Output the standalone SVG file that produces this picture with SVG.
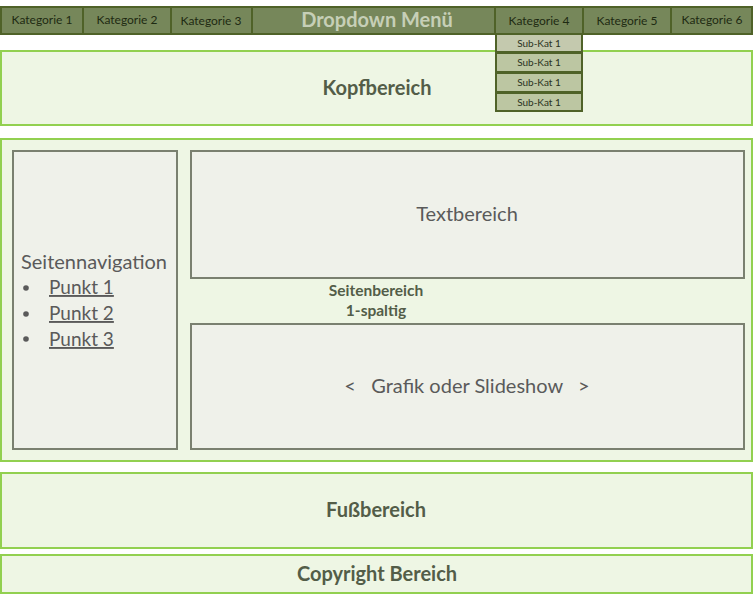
<svg xmlns="http://www.w3.org/2000/svg" width="753" height="600" viewBox="0 0 753 600">
<style>
text{font-family:Lato,"Open Sans","Liberation Sans",sans-serif}
.cat{fill:#76875a;stroke:#4f6228;stroke-width:2}
.cat-t{font-size:12px;fill:#1e2a12;text-anchor:middle}
.sub{fill:#bcc6a2;stroke:#4f6228;stroke-width:2}
.sub-t{font-size:10px;fill:#2a331d;text-anchor:middle}
.area{fill:#eef6e4;stroke:#92d050;stroke-width:2}
.inner{fill:#eff1ea;stroke:#7a8070;stroke-width:2}
.big{font-size:20px;font-weight:bold;fill:#535d48;text-anchor:middle}
.reg{font-size:20px;fill:#5a5a5a}
</style>
<rect width="753" height="600" fill="#ffffff"/>
<g id="kopfbereich"><rect class="area" x="1" y="51" width="751" height="74"/><text class="big" x="377" y="95">Kopfbereich</text></g>
<g id="menu">
<g id="kat1"><rect class="cat" x="1" y="7" width="82" height="27"/><text class="cat-t" x="42" y="24">Kategorie 1</text></g>
<g id="kat2"><rect class="cat" x="83" y="7" width="88" height="27"/><text class="cat-t" x="127" y="24">Kategorie 2</text></g>
<g id="kat3"><rect class="cat" x="171" y="7" width="81" height="27"/><text class="cat-t" x="211" y="25">Kategorie 3</text></g>
<g id="dropdown"><rect class="cat" x="252" y="7" width="243" height="27"/><text x="377" y="27" style="font-size:20px;font-weight:bold;fill:#c6cfb7;text-anchor:middle">Dropdown Menü</text></g>
<g id="kat4"><rect class="cat" x="495" y="7" width="88" height="27"/><text class="cat-t" x="539" y="25">Kategorie 4</text></g>
<g id="kat5"><rect class="cat" x="583" y="7" width="88" height="27"/><text class="cat-t" x="627" y="25">Kategorie 5</text></g>
<g id="kat6"><rect class="cat" x="671" y="7" width="81" height="27"/><text class="cat-t" x="712" y="24">Kategorie 6</text></g>
</g>
<g id="subkats">
<g id="sub1"><rect class="sub" x="496" y="34" width="86" height="18" style="fill:#c4c9ae"/><text class="sub-t" x="539" y="47">Sub-Kat 1</text></g>
<g id="sub2"><rect class="sub" x="496" y="53" width="86" height="19"/><text class="sub-t" x="539" y="66">Sub-Kat 1</text></g>
<g id="sub3"><rect class="sub" x="496" y="73" width="86" height="19"/><text class="sub-t" x="539" y="86">Sub-Kat 1</text></g>
<g id="sub4"><rect class="sub" x="496" y="93" width="86" height="18"/><text class="sub-t" x="539" y="106">Sub-Kat 1</text></g>
</g>
<g id="seitenbereich"><rect class="area" x="1" y="139" width="751" height="322"/>
<text x="376" y="296" style="font-size:15.5px;font-weight:bold;fill:#535d48;text-anchor:middle">Seitenbereich</text>
<text x="376" y="316" style="font-size:15.5px;font-weight:bold;fill:#535d48;text-anchor:middle">1-spaltig</text></g>
<g id="seitennavigation"><rect class="inner" x="13" y="151" width="164" height="298"/>
<text class="reg" x="21" y="269" style="font-size:20px">Seitennavigation</text>
<g style="font-size:19px;fill:#5a5a5a">
<circle cx="26" cy="288" r="2.8" fill="#5a5a5a"/><text x="49" y="294" text-decoration="underline">Punkt 1</text>
<circle cx="26" cy="314" r="2.8" fill="#5a5a5a"/><text x="49" y="320" text-decoration="underline">Punkt 2</text>
<circle cx="26" cy="339" r="2.8" fill="#5a5a5a"/><text x="49" y="346" text-decoration="underline">Punkt 3</text>
</g></g>
<g id="textbereich"><rect class="inner" x="191" y="151" width="553" height="127"/><text class="reg" x="467" y="221" text-anchor="middle">Textbereich</text></g>
<g id="grafik"><rect class="inner" x="191" y="324" width="553" height="125"/><text class="reg" x="467" y="393" text-anchor="middle" xml:space="preserve">&lt;   Grafik oder Slideshow   &gt;</text></g>
<g id="fussbereich"><rect class="area" x="1" y="473" width="751" height="75"/><text class="big" x="376" y="517">Fußbereich</text></g>
<g id="copyright"><rect class="area" x="1" y="555" width="751" height="38"/><text class="big" x="377" y="581">Copyright Bereich</text></g>
<g id="connectors"/>
</svg>
